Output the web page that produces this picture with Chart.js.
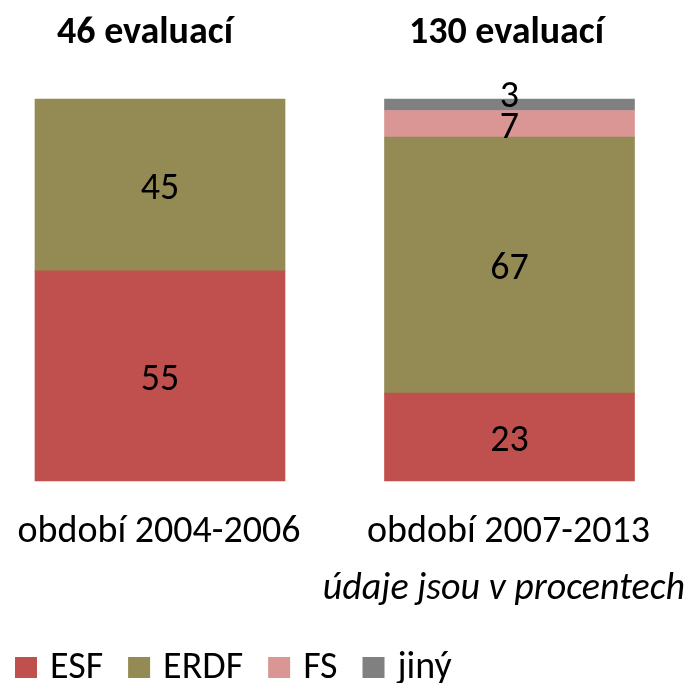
<!DOCTYPE html>
<html>
<head>
<meta charset="utf-8">
<script src="https://cdn.jsdelivr.net/npm/chart.js@4"></script>
<style>
  body { margin: 0; background: #fff; }
</style>
</head>
<body>
<canvas id="graf" width="691" height="683"></canvas>
<script>
const obdobi = ['období 2004-2006', 'období 2007-2013'];
const pocty = ['46 evaluací', '130 evaluací'];
const esf = [55, 23];
const erdf = [45, 67];
const fs = [null, 7];
const jiny = [null, 3];
const poznamka = 'údaje jsou v procentech';

const pismo = 'Carlito, Calibri, "Liberation Sans", sans-serif';

// popisky hodnot, nadpisy, kategorie a legenda
const popisky = {
    id: 'popisky',
    afterDatasetsDraw(chart) {
        const c = chart.ctx;
        const x = chart.scales.x;
        c.save();
        c.fillStyle = '#000';
        c.textAlign = 'center';
        c.textBaseline = 'alphabetic';
        c.font = '38px ' + pismo;
        chart.data.datasets.forEach((ds, i) => {
            const meta = chart.getDatasetMeta(i);
            meta.data.forEach((bar, j) => {
                const v = ds.data[j];
                if (v == null) return;
                const h = bar.base - bar.y;
                let y = bar.y + h / 2 + 14;
                if (h < 20) y -= 12;
                c.fillText(String(v), bar.x, y);
            });
        });

        // nadpisy nad sloupci
        c.font = 'bold 38px ' + pismo;
        c.fillText(pocty[0], x.getPixelForValue(0) - 15, 43);
        c.fillText(pocty[1], x.getPixelForValue(1) - 3, 43);

        // kategorie
        c.font = '38px ' + pismo;
        obdobi.forEach((o, i) => c.fillText(o, x.getPixelForValue(i) - 1, 542));

        // poznamka
        c.font = 'italic 38px ' + pismo;
        c.textAlign = 'right';
        c.fillText(poznamka, 685, 599);

        // legenda
        c.textAlign = 'left';
        c.font = '38px ' + pismo;
        let lx = 15;
        chart.data.datasets.forEach(ds => {
            c.fillStyle = ds.backgroundColor;
            c.fillRect(lx, 657, 22, 21);
            c.fillStyle = '#000';
            c.fillText(ds.label, lx + 35, 678);
            lx += 35 + c.measureText(ds.label).width + 25;
        });
        c.restore();
    }
};

const graf = new Chart(document.getElementById('graf'), {
    type: 'bar',
    data: {
        labels: obdobi,
        datasets: [
            { label: 'ESF', data: esf, backgroundColor: '#C0504D' },
            { label: 'ERDF', data: erdf, backgroundColor: '#948A54' },
            { label: 'FS', data: fs, backgroundColor: '#D99694' },
            { label: 'jiný', data: jiny, backgroundColor: '#808080' }
        ]
    },
    options: {
        responsive: false,
        animation: false,
        layout: { padding: { left: 160, right: 181.5, top: 99, bottom: 202 } },
        datasets: { bar: { barThickness: 250, clip: false, borderWidth: 0 } },
        scales: {
            x: { stacked: true, offset: false, display: false },
            y: { stacked: true, min: 0, max: 100, display: false }
        },
        plugins: {
            legend: { display: false },
            tooltip: { enabled: false }
        }
    },
    plugins: [popisky]
});
</script>
</body>
</html>
